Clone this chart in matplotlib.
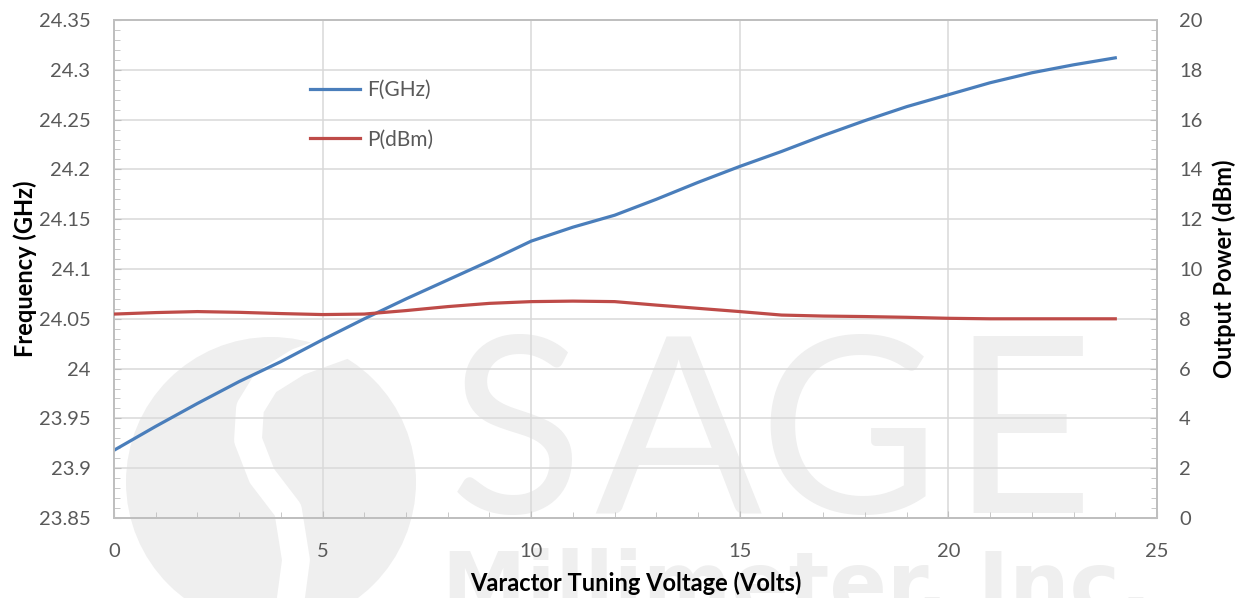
import matplotlib
matplotlib.use('Agg')
from matplotlib import pyplot as plt
from matplotlib.ticker import MultipleLocator, FuncFormatter
from matplotlib.patches import Ellipse
from matplotlib.lines import Line2D

# data (1 V steps)
volts = list(range(0, 25))
freq_ghz = [23.918, 23.942, 23.965, 23.987, 24.007, 24.029, 24.050, 24.070,
            24.089, 24.108, 24.128, 24.142, 24.154, 24.170, 24.187, 24.203,
            24.218, 24.234, 24.249, 24.263, 24.275, 24.287, 24.297, 24.305,
            24.312]
power_dbm = [8.19, 8.25, 8.29, 8.26, 8.21, 8.17, 8.19, 8.33, 8.49, 8.62,
             8.69, 8.71, 8.69, 8.55, 8.42, 8.29, 8.15, 8.11, 8.09, 8.06,
             8.02, 8.00, 8.00, 8.00, 8.00]

x_label = 'Varactor Tuning Voltage (Volts)'
y_label = 'Frequency (GHz)'
y2_label = 'Output Power (dBm)'
series_names = ['F(GHz)', 'P(dBm)']

W, H = 1241, 598
blue = '#4a7ebb'
red = '#be4b48'
grid_col = '#d9d9d9'
spine_col = '#bfbfbf'
tick_col = '#595959'
wm_col = '#efefef'

plt.rcParams['font.family'] = ['Lato', 'DejaVu Sans']

fig = plt.figure(figsize=(W / 100, H / 100), dpi=100)


def px(x, y):
    # pixel position -> figure fraction
    return x / W, 1 - y / H


# watermark logo + company name (behind the axes)
cx, cy = px(271, 482)
fig.add_artist(Ellipse((cx, cy), 290 / W, 290 / H, transform=fig.transFigure,
                       facecolor=wm_col, edgecolor='none', zorder=-3))
gap = [(345, 345), (298, 362), (266, 382), (250, 408), (248, 440),
       (262, 476), (288, 510), (296, 560), (290, 605)]
fig.add_artist(Line2D([p[0] / W for p in gap], [1 - p[1] / H for p in gap],
                      transform=fig.transFigure, color='white', lw=20,
                      solid_capstyle='round', zorder=-2))
for letter, xc in zip('SAGE', [516, 678, 849, 1022]):
    fig.text(*px(xc, 513), letter, ha='center', va='baseline', fontsize=178,
             color=wm_col, zorder=-1)
fig.text(*px(442, 548), 'Millimeter, Inc.', ha='left', va='top', fontsize=61,
         family='Liberation Sans Narrow', fontweight='bold', color=wm_col,
         zorder=-1)

ax = fig.add_axes([114 / W, 1 - 518 / H, (1157 - 114) / W, (518 - 20) / H])
ax.patch.set_facecolor('none')
ax2 = ax.twinx()

l1, = ax.plot(volts, freq_ghz, color=blue, lw=2.3, zorder=3)
l2, = ax2.plot(volts, power_dbm, color=red, lw=2.3, zorder=3)

ax.set_xlim(0, 25)
ax.set_ylim(23.85, 24.35)
ax2.set_ylim(0, 20)

ax.xaxis.set_major_locator(MultipleLocator(5))
ax.xaxis.set_minor_locator(MultipleLocator(1))
ax.yaxis.set_major_locator(MultipleLocator(0.05))
ax.yaxis.set_minor_locator(MultipleLocator(0.01))
ax2.yaxis.set_major_locator(MultipleLocator(2))
ax2.yaxis.set_minor_locator(MultipleLocator(0.4))
ax.yaxis.set_major_formatter(FuncFormatter(lambda v, p: '%g' % round(v, 2)))

ax.grid(True, which='major', color=grid_col, lw=1.1, zorder=0)
ax.set_axisbelow(True)

for a in (ax, ax2):
    for s in a.spines.values():
        s.set_color(spine_col)
        s.set_linewidth(1.3)
    a.tick_params(which='both', direction='in', color=spine_col,
                  labelcolor=tick_col, labelsize=14.5)
    a.tick_params(which='major', length=5)
    a.tick_params(which='minor', length=4)
ax.tick_params(axis='y', pad=17)
ax.tick_params(axis='x', pad=18)
ax2.tick_params(axis='y', pad=16)

ax.set_xlabel(x_label, fontsize=17, fontweight='bold')
ax.set_ylabel(y_label, fontsize=17, fontweight='bold')
ax2.set_ylabel(y2_label, fontsize=17, fontweight='bold')
ax.xaxis.set_label_coords(0.5, -0.108)
ax.yaxis.set_label_coords(-0.074, 0.5)
ax2.yaxis.set_label_coords(1.053, 0.5)

ax2.legend([l1, l2], series_names, loc='upper left',
           bbox_to_anchor=px(310, 80), bbox_transform=fig.transFigure,
           frameon=False, borderpad=0, borderaxespad=0, handlelength=2.4,
           handletextpad=0.34, labelspacing=1.42,
           prop={'size': 15}, labelcolor=tick_col)

fig.savefig('out.png', dpi=100)
